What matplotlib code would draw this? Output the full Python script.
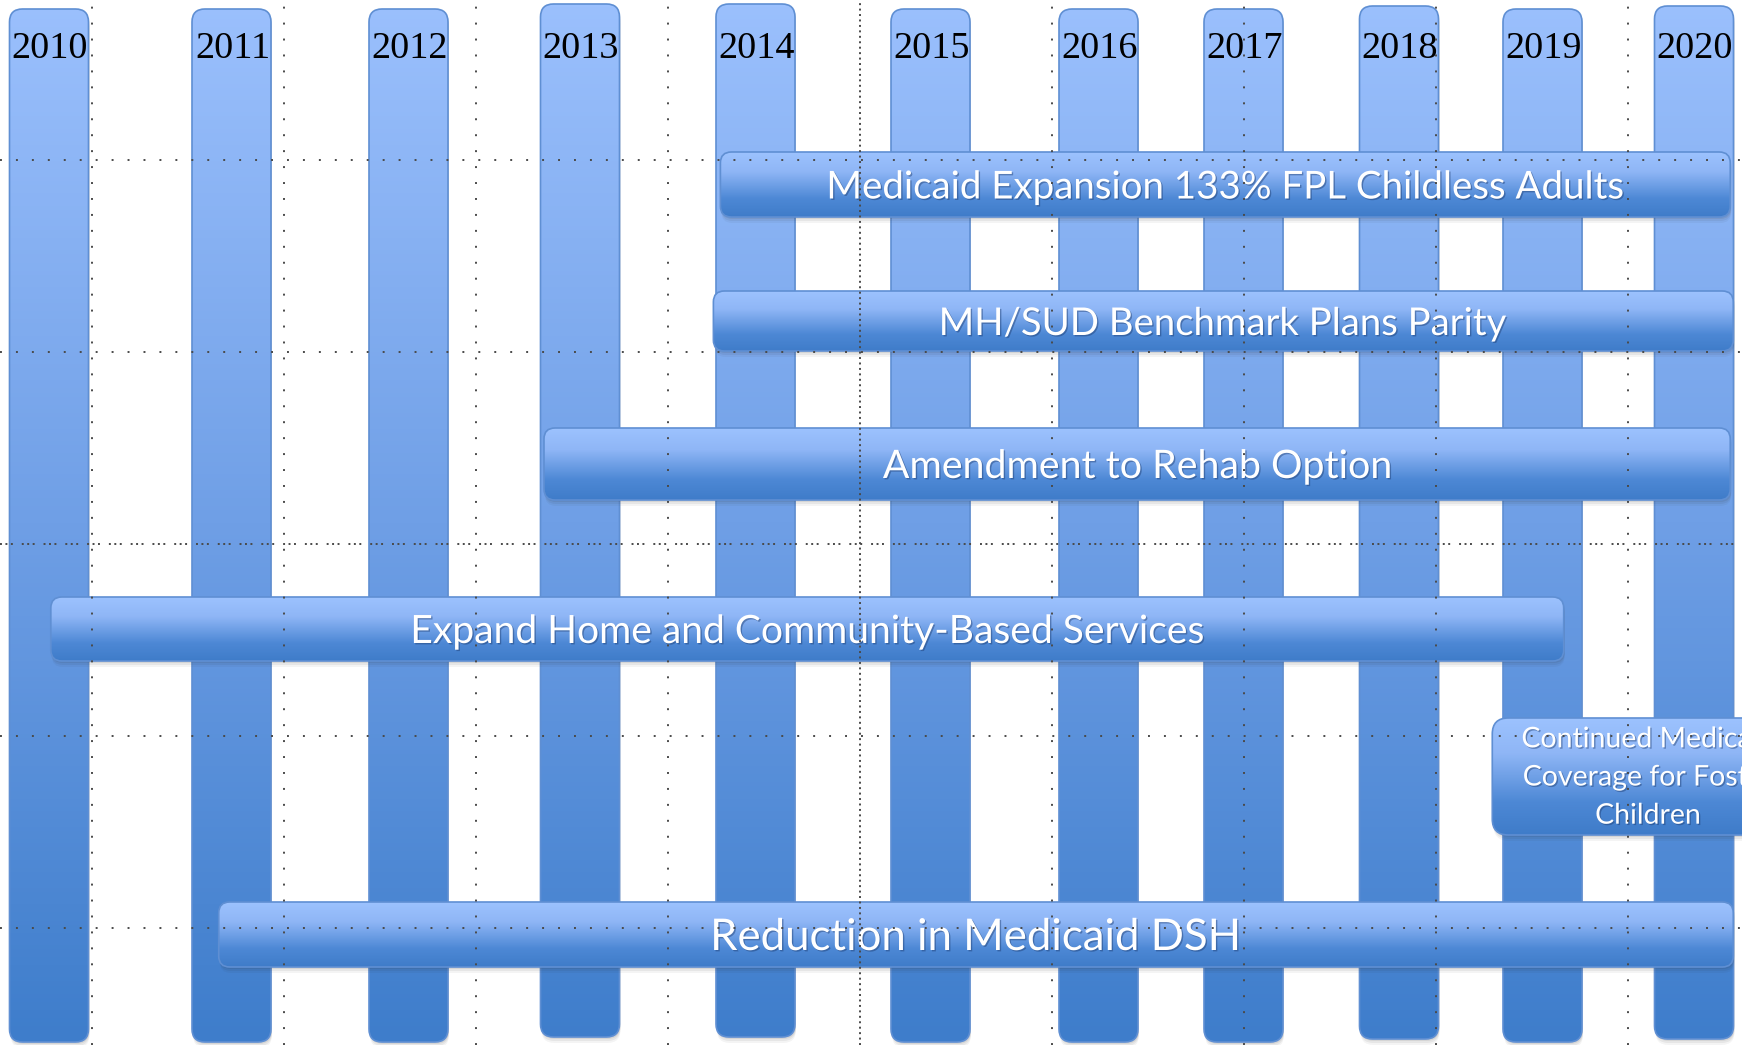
import numpy as np
import matplotlib.pyplot as plt
import matplotlib.patheffects as pe
from matplotlib.patches import FancyBboxPatch
from matplotlib.colors import LinearSegmentedColormap

# timeline data
years = [2010, 2011, 2012, 2013, 2014, 2015, 2016, 2017, 2018, 2019, 2020]
year_labels = [str(y) for y in years]

bar_labels = [
    "Medicaid Expansion 133% FPL Childless Adults",
    "MH/SUD Benchmark Plans Parity",
    "Amendment to Rehab Option",
    "Expand Home and Community-Based Services",
    "Continued Medicaid\nCoverage for Foster\nChildren",
    "Reduction in Medicaid DSH",
]
bar_start = [2013.80, 2013.76, 2012.79, 2010.01, 2018.65, 2010.93]
bar_end = [2020.24, 2020.26, 2020.24, 2019.14, 2020.73, 2020.26]

# layout (pixels)
W, H = 1742, 1045
col_x = [49, 231.5, 408.5, 580, 755.5, 930.5, 1098.5, 1243.5, 1399, 1542.5, 1694]
col_top = [9, 9, 9, 4, 4, 9, 9, 9, 6, 9, 6]
col_w, col_h = 79, 1033
row_top = [152, 291, 428, 597, 718, 902]
row_h = [65, 60, 72, 64, 117, 65]
label_size = [27.7, 27.6, 28.3, 28.1, 20.5, 31.5]


def year_to_x(v):
    # extend by one virtual year each side so bars past 2020 still map
    xs = [years[0] - 1] + years + [years[-1] + 1]
    ps = [col_x[0] - 182] + col_x + [col_x[-1] + 151]
    return np.interp(v, xs, ps)


col_cmap = LinearSegmentedColormap.from_list("col", ["#9bc0fd", "#6f9fe6", "#3e7dcb"])
bar_cmap = LinearSegmentedColormap.from_list(
    "bar", [(0, "#9cc2fe"), (0.3, "#8fb6f6"), (0.72, "#4d88d5"), (1, "#3f7cc9")])

fig = plt.figure(figsize=(W / 100, H / 100), dpi=100)
ax = fig.add_axes([0, 0, 1, 1])
ax.set_xlim(0, W)
ax.set_ylim(H, 0)
ax.axis("off")


def rounded(ax, x0, y0, w, h, r, cmap, grad_rows, z, shadow=True):
    if shadow:
        for k, a in [(6, 0.05), (4, 0.07), (2, 0.09)]:
            sh = FancyBboxPatch((x0 + 1, y0 + k), w, h,
                                boxstyle=f"round,pad=0,rounding_size={r}",
                                fc="#303030", ec="none", alpha=a, zorder=z - 0.5)
            ax.add_patch(sh)
    box = FancyBboxPatch((x0, y0), w, h, boxstyle=f"round,pad=0,rounding_size={r}",
                         fc="none", ec="#5f8fd3", lw=1.2, zorder=z + 0.2)
    ax.add_patch(box)
    img = ax.imshow(grad_rows, cmap=cmap, vmin=0, vmax=1, aspect="auto",
                    extent=(x0, x0 + w, y0 + h, y0), origin="upper",
                    interpolation="bilinear", zorder=z)
    img.set_clip_path(box)


# year columns
for i, yr in enumerate(years):
    x0 = col_x[i] - col_w / 2
    y0 = col_top[i]
    g = np.linspace(y0 / H, (y0 + col_h) / H, 200).reshape(-1, 1)
    rounded(ax, x0, y0, col_w, col_h, 13, col_cmap, g, 2, shadow=True)
    ax.text(col_x[i] + 1, 58, year_labels[i], ha="center", va="baseline",
            fontsize=27.5, family="Liberation Serif", color="black", zorder=3)

# horizontal bars
shadow_fx = [pe.withSimplePatchShadow(offset=(1, -1), shadow_rgbFace="#1d3c70", alpha=0.45)]
for j, lab in enumerate(bar_labels):
    x0 = year_to_x(bar_start[j])
    x1 = year_to_x(bar_end[j])
    multi = "\n" in lab
    r = 16 if multi else 11
    g = np.linspace(0, 1, 200).reshape(-1, 1)
    rounded(ax, x0, row_top[j], x1 - x0, row_h[j], r, bar_cmap, g, 5)
    ax.text((x0 + x1) / 2, row_top[j] + row_h[j] / 2 + (1 if multi else 3), lab,
            ha="center", va="center", fontsize=label_size[j], family="Lato",
            color="white", linespacing=1.58 if multi else 1.2, zorder=6,
            path_effects=shadow_fx)

# dotted guide lines on top
dot = (0, (1, 7.2))
dense = (0, (1, 1.8))
for gx in np.arange(92, W, 192):
    ls = dense if gx == 860 else dot
    ax.axvline(gx, color="#4a4a4a", lw=1.4, ls=ls, zorder=10)
for gy in np.arange(160, H, 192):
    ls = (0, (1, 1.8, 1, 1.8, 1, 4.6)) if gy == 544 else dot
    ax.axhline(gy, color="#4a4a4a", lw=1.4, ls=ls, zorder=10)

fig.savefig("out.png", dpi=100)
